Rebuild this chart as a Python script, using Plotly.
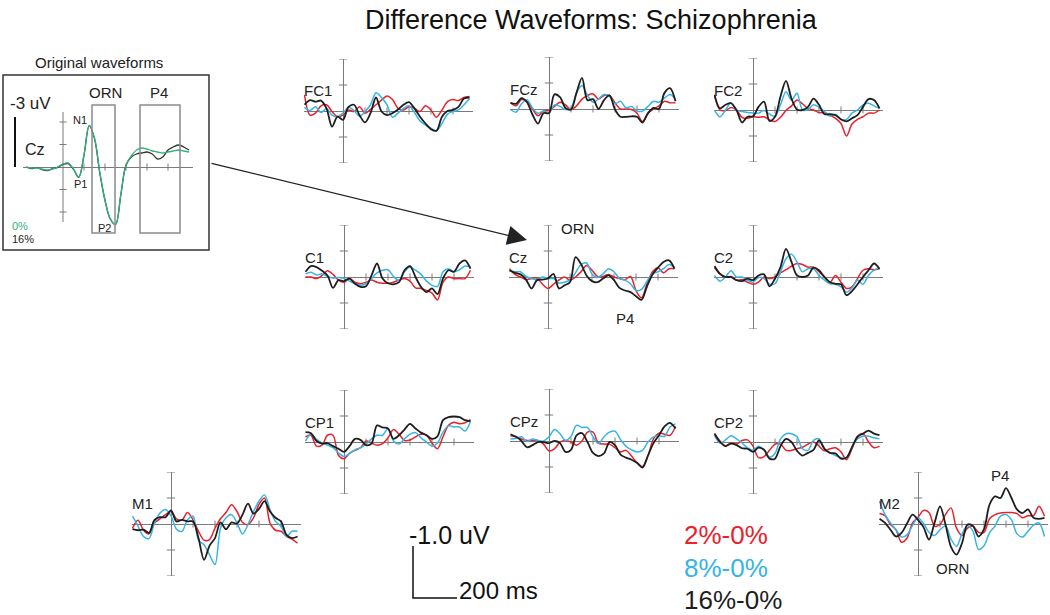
import plotly.graph_objects as go

W, H = 1050, 615
FONT = "Liberation Sans, Arial, sans-serif"

# ---------------- data (uV; negative plotted upward, ERP convention) ----------------
times = list(range(-175, 576, 25))          # ms
conditions = ["2%-0%", "8%-0%", "16%-0%"]

FC1_red   = [-0.31,0.08,0.04,-0.10,-0.12,0.01,0.11,0.08,-0.02,0.01,-0.08,0.04,-0.03,-0.12,-0.21,-0.29,-0.22,-0.05,-0.02,-0.08,-0.05,0.01,-0.10,-0.02,0.12,-0.02,-0.18,-0.22,-0.20,-0.26,-0.28]
FC1_blue  = [-0.07,-0.01,-0.08,0.03,-0.05,0.08,0.11,0.04,-0.07,-0.01,0.10,0.01,-0.12,-0.35,-0.26,-0.12,0.12,0.04,-0.05,-0.10,0.03,0.19,0.27,0.33,0.38,0.24,0.06,0.01,-0.02,-0.12,-0.24]
FC1_black = [-0.12,-0.21,-0.18,-0.20,-0.05,0.30,0.11,0.17,-0.08,-0.12,0.08,0.22,0.04,-0.26,0.01,0.08,0.04,-0.03,-0.12,-0.17,-0.05,0.11,0.24,0.35,0.38,0.11,0.00,-0.02,-0.08,-0.24,-0.26]

FCz_red   = [-0.12,-0.06,-0.18,-0.15,0.00,0.13,0.04,0.03,-0.05,-0.13,-0.08,0.01,-0.06,-0.19,-0.26,-0.29,-0.19,-0.26,-0.26,-0.12,0.00,0.00,0.01,0.08,0.24,0.08,0.00,-0.06,-0.15,-0.12,-0.12]
FCz_blue  = [0.01,0.06,-0.10,-0.18,-0.02,0.08,0.04,0.08,-0.08,-0.05,0.01,-0.02,-0.31,-0.45,-0.26,-0.13,-0.19,-0.28,-0.24,-0.10,-0.15,-0.02,-0.05,0.04,0.04,-0.05,-0.15,-0.13,-0.21,-0.28,-0.19]
FCz_black = [-0.12,-0.10,-0.21,-0.13,0.11,0.28,0.08,0.08,-0.28,-0.23,-0.02,0.01,-0.31,-0.60,-0.17,-0.19,0.00,-0.17,-0.26,0.01,0.15,0.15,0.14,0.15,0.26,0.08,-0.02,0.00,-0.31,-0.40,-0.15]

FC2_red   = [-0.29,0.00,0.01,-0.05,0.00,0.14,0.16,0.13,0.14,0.13,0.19,0.22,0.14,0.01,-0.08,-0.19,-0.12,-0.03,0.00,0.05,0.05,0.10,0.16,0.26,0.50,0.27,0.18,0.13,0.06,0.06,0.00]
FC2_blue  = [0.00,0.13,0.00,-0.14,0.00,0.03,0.05,0.06,0.06,0.01,0.08,0.12,-0.10,-0.35,-0.19,-0.32,0.00,-0.01,-0.10,-0.05,0.03,0.12,0.08,0.18,0.18,0.06,0.00,-0.10,-0.13,-0.08,-0.03]
FC2_black = [-0.29,-0.03,-0.10,-0.13,0.00,0.24,0.13,0.12,-0.06,-0.16,0.21,0.13,-0.26,-0.56,-0.22,-0.01,0.00,-0.06,-0.22,-0.10,0.08,0.08,0.10,0.18,0.22,0.16,0.10,-0.06,-0.21,-0.19,-0.03]

C1_red    = [0.00,0.00,0.03,-0.03,-0.12,-0.05,0.06,0.10,0.03,0.10,0.13,0.10,0.06,0.10,0.12,0.12,0.10,0.06,0.03,0.08,0.21,0.22,0.26,0.31,0.44,0.10,0.00,0.03,0.03,0.03,-0.13]
C1_blue   = [-0.06,-0.09,-0.04,-0.06,-0.01,0.02,0.01,0.03,0.08,0.13,0.16,0.13,0.03,-0.08,-0.13,-0.14,-0.01,0.06,-0.10,-0.19,-0.13,-0.05,0.08,0.16,0.18,-0.10,-0.16,-0.10,-0.14,-0.21,-0.19]
C1_black  = [-0.10,-0.21,-0.19,-0.12,-0.03,0.21,0.06,0.08,0.03,0.13,0.19,0.18,-0.03,-0.26,0.03,0.12,0.14,0.10,-0.13,-0.21,0.00,0.19,0.29,0.22,0.33,0.03,-0.13,-0.10,-0.26,-0.32,-0.16]

Cz_red    = [-0.16,-0.05,0.00,0.05,0.03,0.02,0.14,0.22,0.14,0.06,0.00,0.06,0.00,-0.10,-0.22,-0.13,-0.01,-0.01,-0.05,0.00,0.03,0.05,-0.01,0.26,0.40,0.13,-0.10,-0.18,-0.08,-0.16,-0.16]
Cz_blue   = [-0.12,-0.10,-0.10,-0.01,0.03,0.05,0.00,0.03,0.03,0.12,0.10,0.06,-0.08,-0.24,-0.27,-0.06,0.01,-0.06,-0.16,-0.10,0.03,0.06,0.13,0.26,0.24,0.08,-0.06,-0.10,-0.16,-0.24,-0.18]
Cz_black  = [-0.13,-0.08,-0.05,0.05,0.22,0.06,0.05,0.03,-0.06,0.22,0.16,0.10,-0.38,-0.25,-0.03,0.08,0.10,0.03,-0.03,0.06,0.21,0.26,0.29,0.37,0.44,0.18,-0.05,-0.18,-0.29,-0.32,-0.16]

C2_red    = [-0.18,-0.06,0.00,-0.01,0.06,0.05,0.10,0.14,0.10,0.00,0.03,0.00,-0.08,-0.14,-0.21,-0.26,-0.24,-0.19,-0.19,-0.10,0.00,0.10,-0.03,0.10,0.22,0.19,0.03,-0.13,-0.16,-0.14,-0.16]
C2_blue   = [-0.03,0.08,0.00,-0.12,0.00,0.00,0.06,0.10,0.01,0.03,0.14,0.13,-0.10,-0.35,-0.44,-0.29,-0.10,-0.16,-0.16,-0.03,0.06,0.13,0.14,0.19,0.29,0.21,0.06,0.14,-0.03,-0.13,-0.18]
C2_black  = [-0.21,-0.06,0.00,0.00,0.06,0.08,0.03,0.06,-0.03,-0.05,0.18,0.03,-0.19,-0.54,-0.29,-0.03,0.00,-0.03,-0.18,-0.13,0.00,0.10,0.13,0.14,0.35,0.27,0.14,0.00,-0.13,-0.26,-0.16]

CP1_red   = [-0.10,-0.13,0.08,0.06,-0.13,-0.13,0.26,0.32,0.22,0.16,0.11,-0.02,0.02,0.06,0.03,-0.08,-0.24,-0.15,-0.03,-0.04,-0.10,-0.15,-0.13,0.02,0.13,-0.10,-0.32,-0.38,-0.35,-0.37,-0.43]
CP1_blue  = [-0.02,-0.15,-0.05,0.02,0.06,0.11,0.21,0.28,0.22,0.15,0.11,0.04,-0.06,-0.13,-0.13,-0.26,-0.02,0.04,-0.06,-0.15,-0.18,-0.08,0.00,0.08,0.02,-0.19,-0.31,-0.29,-0.29,-0.21,-0.40]
CP1_black = [-0.19,-0.17,-0.02,0.03,0.02,0.08,0.13,0.19,0.08,-0.06,-0.04,0.06,0.03,-0.32,-0.28,-0.26,-0.06,-0.13,-0.24,-0.35,-0.26,-0.18,-0.13,-0.06,-0.11,-0.42,-0.48,-0.49,-0.48,-0.42,-0.40]

CPz_red   = [-0.10,-0.08,-0.04,-0.01,-0.01,-0.01,0.06,0.19,0.15,0.02,-0.01,0.02,0.08,0.00,-0.17,-0.17,0.04,0.06,0.06,0.13,0.21,0.18,0.29,0.42,0.49,0.28,-0.04,-0.15,-0.13,-0.11,-0.28]
CPz_blue  = [-0.04,-0.05,-0.08,0.01,-0.04,-0.01,0.00,-0.08,-0.22,-0.14,-0.01,-0.09,-0.30,-0.26,-0.26,-0.08,0.05,-0.08,-0.17,-0.19,-0.03,0.10,0.17,0.21,0.18,0.02,-0.08,-0.10,-0.09,-0.27,-0.33]
CPz_black = [-0.13,-0.08,0.00,0.12,0.08,0.02,0.02,0.04,0.00,0.04,0.21,0.17,-0.11,-0.15,0.02,0.23,0.29,0.24,0.02,0.08,0.26,0.32,0.36,0.42,0.51,0.28,0.04,-0.11,-0.28,-0.35,-0.24]

CP2_red   = [-0.16,-0.02,0.08,0.02,0.04,-0.03,-0.04,0.08,0.30,0.28,0.16,0.04,0.04,0.16,0.16,0.13,0.10,0.04,0.00,0.08,0.17,0.13,0.11,0.19,0.34,0.13,-0.11,-0.16,0.00,0.11,0.08]
CP2_blue  = [-0.13,0.02,-0.04,-0.12,-0.06,0.02,0.11,0.16,0.08,0.15,0.29,0.22,-0.06,-0.16,-0.16,-0.10,0.13,0.16,-0.03,-0.06,0.13,0.21,0.26,0.30,0.30,0.10,-0.06,-0.11,-0.11,-0.08,-0.06]
CP2_black = [-0.16,0.00,0.08,0.03,0.06,0.12,0.13,0.19,0.11,0.15,0.32,0.32,0.08,-0.06,0.00,0.17,0.26,0.21,0.15,-0.03,0.13,0.21,0.22,0.32,0.30,0.10,-0.10,-0.16,-0.22,-0.16,-0.13]

M1_red    = [0.08,-0.07,0.12,0.19,-0.02,-0.10,-0.18,-0.24,-0.10,-0.08,-0.22,-0.08,0.14,0.31,0.30,0.08,-0.10,-0.22,-0.37,-0.24,-0.03,0.01,-0.12,-0.38,-0.50,-0.02,0.12,0.14,0.24,0.29,0.37]
M1_blue   = [-0.15,0.04,0.24,0.28,-0.02,-0.21,-0.28,-0.16,0.10,0.14,-0.08,-0.15,0.31,0.40,0.59,0.78,0.08,-0.12,-0.18,-0.02,0.19,0.01,-0.24,-0.44,-0.56,-0.28,-0.05,0.04,0.24,0.14,0.14]
M1_black  = [0.10,0.12,0.11,0.17,-0.08,-0.13,-0.13,-0.26,-0.05,-0.08,-0.05,-0.05,0.27,0.69,0.42,0.27,-0.03,0.10,-0.03,-0.01,-0.18,-0.39,-0.20,-0.29,-0.44,-0.24,-0.12,-0.05,0.21,0.27,0.24]

M2_red    = [-0.20,-0.16,0.01,0.11,0.35,0.27,-0.02,-0.13,-0.26,-0.22,0.04,0.01,-0.18,-0.31,0.08,0.22,0.08,0.04,0.16,0.16,-0.10,-0.18,-0.21,-0.22,-0.22,-0.20,-0.12,-0.16,-0.16,-0.34,-0.15]
M2_blue   = [-0.44,-0.18,-0.02,0.11,0.25,0.21,0.03,-0.12,-0.01,0.16,0.22,0.11,0.04,0.29,0.43,0.19,0.03,0.14,0.49,0.42,0.17,0.04,-0.15,-0.18,-0.08,0.19,0.25,0.14,0.02,-0.02,0.24]
M2_black  = [-0.10,-0.02,0.11,0.24,0.17,-0.01,-0.18,-0.08,0.06,0.30,-0.02,-0.34,0.01,0.44,0.59,0.37,0.01,0.04,0.24,0.10,-0.37,-0.53,-0.50,-0.69,-0.50,-0.28,-0.21,-0.28,-0.12,-0.10,-0.12]

# inset: original Cz waveforms (0% and 16%)
inset_times = list(range(-175, 601, 25))
Cz_orig_0  = [0.00,0.06,0.06,0.12,0.18,0.12,0.00,-0.18,-0.24,0.12,0.60,-0.72,-2.50,-1.74,0.30,1.98,3.10,3.45,1.68,-0.12,-0.66,-1.02,-1.14,-1.08,-0.96,-0.90,-0.84,-0.90,-0.96,-1.02,-0.96,-0.90]
Cz_orig_16 = [0.00,0.10,0.04,0.16,0.22,0.10,0.02,-0.16,-0.20,0.14,0.62,-0.70,-2.48,-1.70,0.34,2.00,3.12,3.45,1.70,-0.10,-0.60,-0.78,-0.84,-0.90,-0.78,-0.48,-0.60,-1.02,-1.20,-1.32,-1.20,-1.02]

electrodes = ["FC1", "FCz", "FC2", "C1", "Cz", "C2", "CP1", "CPz", "CP2", "M1", "M2"]
waves = {
    "FC1": (FC1_red, FC1_blue, FC1_black), "FCz": (FCz_red, FCz_blue, FCz_black),
    "FC2": (FC2_red, FC2_blue, FC2_black), "C1": (C1_red, C1_blue, C1_black),
    "Cz": (Cz_red, Cz_blue, Cz_black), "C2": (C2_red, C2_blue, C2_black),
    "CP1": (CP1_red, CP1_blue, CP1_black), "CPz": (CPz_red, CPz_blue, CPz_black),
    "CP2": (CP2_red, CP2_blue, CP2_black), "M1": (M1_red, M1_blue, M1_black),
    "M2": (M2_red, M2_blue, M2_black),
}
uv_ticks = [-1.0, -0.5, 0.5, 1.0]
ms_ticks = [100, 200, 300, 400, 500]

# ---------------- styling / layout ----------------
COLORS = ["#e8212b", "#36b4e5", "#1e1e1e"]
WIDTHS = [1.5, 1.5, 1.8]
AXC = "#7a7a7a"
PX_MS, PX_UV = 0.22, 52.0           # pixels per ms / per uV
LEFT_PX, RIGHT_PX, HALF_PX = 39, 130, 52

anchors = {  # pixel position of (0 ms, 0 uV) for each panel
    "FC1": (343, 111), "FCz": (549, 109), "FC2": (753, 110),
    "C1": (344, 277), "Cz": (548, 277), "C2": (753, 277),
    "CP1": (344, 442), "CPz": (549, 441), "CP2": (753, 442),
    "M1": (171, 524), "M2": (918, 524),
}

def px(x):
    return x / W

def py(y):
    return 1 - y / H

fig = go.Figure()
layout = {}
annotations = []
shapes = []

def blank_axis(**kw):
    d = dict(showgrid=False, showticklabels=False, ticks="", showline=False,
             zeroline=False, fixedrange=True)
    d.update(kw)
    return d

for i, name in enumerate(electrodes, start=1):
    ax, by = anchors[name]
    xa, ya = f"x{i}", f"y{i}"
    layout[f"xaxis{i}"] = blank_axis(
        domain=[px(ax - LEFT_PX), px(ax + RIGHT_PX)],
        range=[-LEFT_PX / PX_MS, RIGHT_PX / PX_MS],
        zeroline=True, zerolinecolor=AXC, zerolinewidth=1, anchor=ya)
    layout[f"yaxis{i}"] = blank_axis(
        domain=[py(by + HALF_PX), py(by - HALF_PX)],
        range=[HALF_PX / PX_UV, -HALF_PX / PX_UV],
        zeroline=True, zerolinecolor=AXC, zerolinewidth=1, anchor=xa)
    # tick marks
    fig.add_trace(go.Scatter(x=[0] * len(uv_ticks), y=uv_ticks, mode="markers",
                             marker=dict(symbol="line-ew", size=6, line=dict(width=1, color=AXC)),
                             xaxis=xa, yaxis=ya, hoverinfo="skip", showlegend=False))
    fig.add_trace(go.Scatter(x=ms_ticks, y=[0] * len(ms_ticks), mode="markers",
                             marker=dict(symbol="line-ns", size=5, line=dict(width=1, color=AXC)),
                             xaxis=xa, yaxis=ya, hoverinfo="skip", showlegend=False))
    for k, series in enumerate(waves[name]):
        fig.add_trace(go.Scatter(x=times, y=series, mode="lines",
                                 line=dict(color=COLORS[k], width=WIDTHS[k], shape="spline", smoothing=0.9),
                                 name=conditions[k], xaxis=xa, yaxis=ya, showlegend=False,
                                 hoverinfo="skip"))
    annotations.append(dict(x=px(ax - 41), y=py(by - 20), xref="paper", yref="paper",
                            text=name, showarrow=False, xanchor="left", yanchor="middle",
                            font=dict(size=15, color="#222")))

# ---------------- inset (original waveforms) ----------------
n = len(electrodes) + 1
IPX_MS, IPX_UV = 0.21, 50 / 3.0
iax, iby = 63, 167
layout[f"xaxis{n}"] = blank_axis(domain=[px(iax - 40), px(iax + 130)],
                                 range=[-40 / IPX_MS, 130 / IPX_MS], anchor=f"y{n}")
layout[f"yaxis{n}"] = blank_axis(domain=[py(iby + 70), py(iby - 70)],
                                 range=[70 / IPX_UV, -70 / IPX_UV],
                                 zeroline=True, zerolinecolor=AXC, zerolinewidth=1, anchor=f"x{n}")
inset_uv_ticks = [-2.7, -1.35, 1.35, 2.7]
fig.add_trace(go.Scatter(x=[0, 0], y=[-55 / IPX_UV, 55 / IPX_UV], mode="lines",
                         line=dict(color=AXC, width=1), xaxis=f"x{n}", yaxis=f"y{n}",
                         hoverinfo="skip", showlegend=False))
fig.add_trace(go.Scatter(x=[0] * 4, y=inset_uv_ticks, mode="markers",
                         marker=dict(symbol="line-ew", size=5, line=dict(width=1, color=AXC)),
                         xaxis=f"x{n}", yaxis=f"y{n}", hoverinfo="skip", showlegend=False))
fig.add_trace(go.Scatter(x=ms_ticks, y=[0] * len(ms_ticks), mode="markers",
                         marker=dict(symbol="line-ns", size=5, line=dict(width=1, color=AXC)),
                         xaxis=f"x{n}", yaxis=f"y{n}", hoverinfo="skip", showlegend=False))
fig.add_trace(go.Scatter(x=inset_times, y=Cz_orig_16, mode="lines",
                         line=dict(color="#333333", width=1.3, shape="spline"),
                         xaxis=f"x{n}", yaxis=f"y{n}", hoverinfo="skip", showlegend=False))
fig.add_trace(go.Scatter(x=inset_times, y=Cz_orig_0, mode="lines",
                         line=dict(color="#2fb37c", width=1.3, shape="spline"),
                         xaxis=f"x{n}", yaxis=f"y{n}", hoverinfo="skip", showlegend=False))

# inset frame, component windows and scale bar
shapes += [
    dict(type="rect", xref="paper", yref="paper", x0=px(3), x1=px(209), y0=py(250), y1=py(75),
         line=dict(color="#333", width=1.5)),
    dict(type="rect", xref="paper", yref="paper", x0=px(92), x1=px(115), y0=py(233), y1=py(105),
         line=dict(color="#8a8a8a", width=1.5)),
    dict(type="rect", xref="paper", yref="paper", x0=px(140), x1=px(180), y0=py(233), y1=py(105),
         line=dict(color="#8a8a8a", width=1.5)),
    dict(type="line", xref="paper", yref="paper", x0=px(15), x1=px(15), y0=py(117), y1=py(167),
         line=dict(color="#111", width=2)),
]

def txt(x, y, s, size, color="#222", anchor="left"):
    annotations.append(dict(x=px(x), y=py(y), xref="paper", yref="paper", text=s,
                            showarrow=False, xanchor=anchor, yanchor="middle",
                            font=dict(size=size, color=color)))

txt(99, 63, "Original waveforms", 15, anchor="center")
txt(8, 104, "-3 uV", 17)
txt(105, 92, "ORN", 15, anchor="center")
txt(159, 92, "P4", 15, anchor="center")
txt(23, 149, "Cz", 16)
txt(80, 120, "N1", 11, anchor="center")
txt(80, 184, "P1", 11, anchor="center")
txt(104, 228, "P2", 11, anchor="center")
txt(10, 226, "0%", 11, color="#2fb37c")
txt(10, 239, "16%", 11)

# component labels in panels
txt(577, 229, "ORN", 15, anchor="center")
txt(625, 318, "P4", 15, anchor="center")
txt(1000, 476, "P4", 15, anchor="center")
txt(952, 568, "ORN", 15, anchor="center")

# title
txt(591, 20, "Difference Waveforms: Schizophrenia", 27, color="#111", anchor="center")

# arrow from inset to Cz panel
annotations.append(dict(x=px(527), y=py(240), xref="paper", yref="paper", text="",
                        showarrow=True, ax=-317, ay=-77, arrowhead=2, arrowsize=3,
                        arrowwidth=1.3, arrowcolor="#222"))

# ---------------- scale bar (uses same uV / ms scale) ----------------
s = n + 1
cx, cy = 413, 598
layout[f"xaxis{s}"] = blank_axis(domain=[px(cx - 5), px(cx + 55)],
                                 range=[-5 / PX_MS, 55 / PX_MS], anchor=f"y{s}")
layout[f"yaxis{s}"] = blank_axis(domain=[py(cy + 5), py(cy - 60)],
                                 range=[5 / PX_UV, -60 / PX_UV], anchor=f"x{s}")
scale_uv, scale_ms = -1.0, 200
fig.add_trace(go.Scatter(x=[0, 0, scale_ms], y=[scale_uv, 0, 0], mode="lines",
                         line=dict(color="#111", width=1.5), xaxis=f"x{s}", yaxis=f"y{s}",
                         hoverinfo="skip", showlegend=False))
txt(407, 535, "-1.0 uV", 25, color="#111")
txt(457, 590, "200 ms", 24, color="#111")

# legend text
for k, (label, ypos) in enumerate(zip(conditions, [535, 568, 600])):
    txt(682, ypos, label, 26, color=COLORS[k])

layout.update(dict(width=W, height=H, margin=dict(l=0, r=0, t=0, b=0),
                   paper_bgcolor="white", plot_bgcolor="rgba(0,0,0,0)",
                   font=dict(family=FONT, color="#222"),
                   annotations=annotations, shapes=shapes, showlegend=False))
fig.update_layout(**layout)
fig.write_html("out.html", config={"displayModeBar": False, "staticPlot": True},
               post_script="document.body.style.margin='0';document.body.style.overflow='hidden';")
